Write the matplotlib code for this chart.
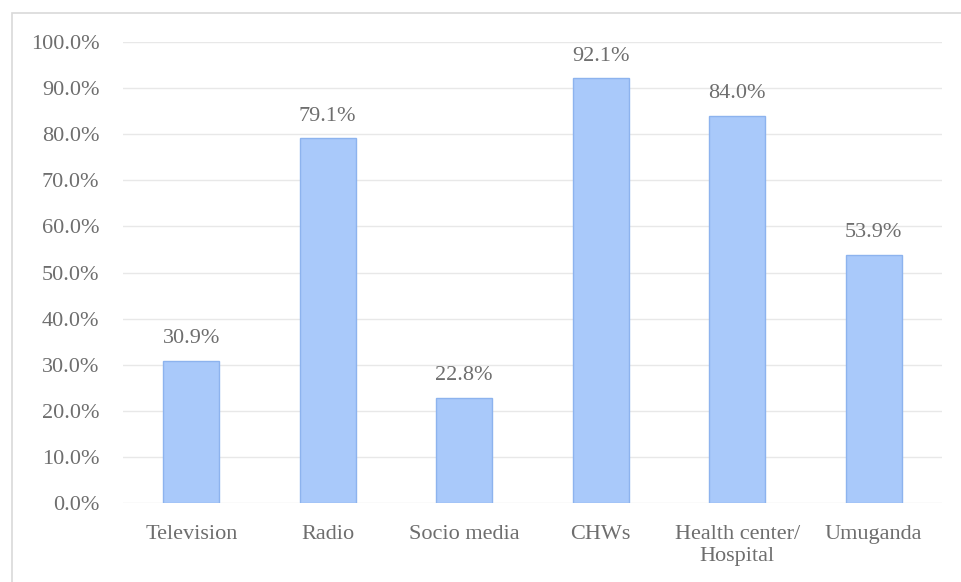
import matplotlib
matplotlib.use("Agg")
import matplotlib.pyplot as plt
from matplotlib.patches import Rectangle
from matplotlib.ticker import FuncFormatter, MultipleLocator

categories = ["Television", "Radio", "Socio media", "CHWs", "Health center/\nHospital", "Umuganda"]
values = [30.9, 79.1, 22.8, 92.1, 84.0, 53.9]

W, H = 961, 582
fig = plt.figure(figsize=(W / 100, H / 100), dpi=100)
plt.rcParams['font.family'] = ['Liberation Serif', 'DejaVu Serif']

ax = fig.add_axes([123 / W, 1 - 503 / H, (942 - 123) / W, (503 - 42) / H])
text_color = "#6E6E6E"

x = list(range(len(categories)))
bars = ax.bar(x, values, width=0.41, color="#A9C9FA", edgecolor="#8DB3EE", linewidth=1.0, zorder=3)
for xi, v in zip(x, values):
    ax.annotate(f"{v:.1f}%", (xi, v), xytext=(0, 9), textcoords="offset points",
                ha="center", va="bottom", fontsize=16, color=text_color)

ax.set_xlim(-0.5, len(categories) - 0.5)
ax.set_ylim(0, 100)
ax.yaxis.set_major_locator(MultipleLocator(10))
ax.yaxis.set_major_formatter(FuncFormatter(lambda v, p: f"{v:.1f}%"))
ax.set_xticks(x)
ax.set_xticklabels(categories, linespacing=1.2)
ax.tick_params(axis="both", length=0, labelsize=16, colors=text_color)
ax.tick_params(axis="y", pad=17)
ax.tick_params(axis="x", pad=16)
ax.grid(axis="y", color="#E8E8E8", linewidth=1.0, zorder=0)
for s in ax.spines.values():
    s.set_visible(False)

fig.patches.append(Rectangle((11.5 / W, -0.1), 1.2, 1.1 - 12.5 / H, transform=fig.transFigure,
                             fill=False, edgecolor="#D9D9D9", linewidth=1.2))

fig.savefig("out.png", dpi=100)
